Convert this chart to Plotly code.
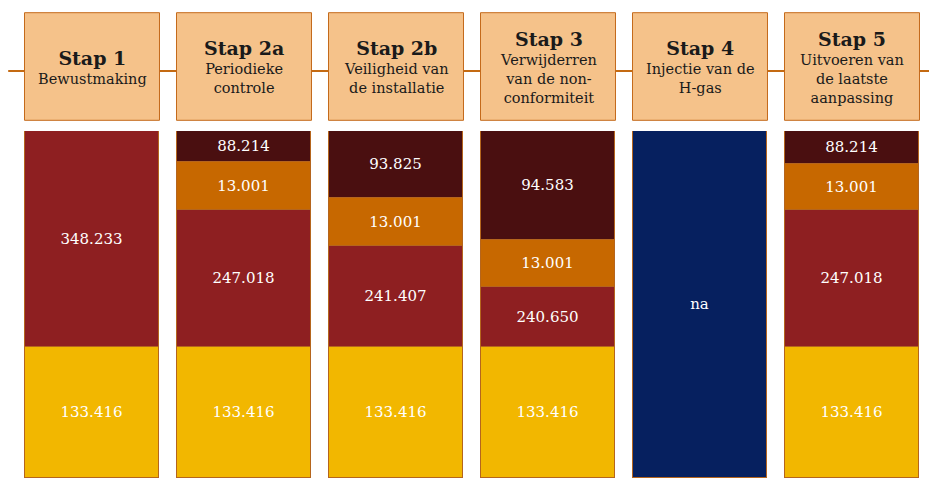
import plotly.graph_objs as go

# stappen en subtitels
stappen = ["Stap 1", "Stap 2a", "Stap 2b", "Stap 3", "Stap 4", "Stap 5"]
subtitels = [
    "Bewustmaking",
    "Periodieke<br>controle",
    "Veiligheid van<br>de installatie",
    "Verwijderren<br>van de non-<br>conformiteit",
    "Injectie van de<br>H-gas",
    "Uitvoeren van<br>de laatste<br>aanpassing",
]

# getoonde waarden per segment (labels)
basis_lbl = ["133.416", "133.416", "133.416", "133.416", "", "133.416"]
rood_lbl = ["348.233", "247.018", "241.407", "240.650", "", "247.018"]
oranje_lbl = ["", "13.001", "13.001", "13.001", "", "13.001"]
donker_lbl = ["", "88.214", "93.825", "94.583", "", "88.214"]
na_lbl = ["", "", "", "", "na", ""]

# segmenthoogtes zoals getekend in de figuur (niet op schaal van de labels)
basis_h = [130.7, 130.7, 130.7, 130.7, 0, 130.7]
rood_h = [216.6, 137.3, 101.6, 60.6, 0, 137.3]
oranje_h = [0, 48.3, 48.4, 47.4, 0, 46.0]
donker_h = [0, 31.0, 66.6, 108.6, 0, 33.3]
na_h = [0, 0, 0, 0, 347.3, 0]

# de pagina zet de figuur 8px van de rand, dus alles 8px verschoven
OFF = 8
W, H = 937 - OFF, 478 - OFF
T, B, L, R = 130.7 - OFF, 0, 15.8 - OFF, 9.2
plot_h = H - T - B
plot_w = W - L - R

fig = go.Figure()
series = [
    (basis_h, basis_lbl, "#F2B700"),
    (rood_h, rood_lbl, "#8E1F21"),
    (oranje_h, oranje_lbl, "#C76800"),
    (donker_h, donker_lbl, "#4A0F10"),
    (na_h, na_lbl, "#06205F"),
]
for h, lbl, kleur in series:
    fig.add_trace(go.Bar(
        x=stappen, y=h, text=lbl, textposition="inside", insidetextanchor="middle",
        textangle=0, width=0.888,
        textfont=dict(family="DejaVu Serif", size=15, color="white"),
        marker=dict(color=kleur, line=dict(color="#B5651D", width=1)),
        hoverinfo="skip", showlegend=False, cliponaxis=False,
    ))

def py(ypix):
    # pagina-pixel (vanaf boven) naar paper-coordinaat
    return 1 + (T - (ypix - OFF)) / plot_h

def px(xpix):
    return (xpix - OFF - L) / plot_w

shapes = [dict(type="line", xref="paper", yref="paper", x0=px(8), x1=px(937),
               y0=py(70.7), y1=py(70.7), line=dict(color="#C46A12", width=2))]
for i, s in enumerate(stappen):
    shapes.append(dict(type="rect", xref="x", yref="paper",
                       x0=i - 0.444, x1=i + 0.444, y0=py(120), y1=py(12.3),
                       fillcolor="#F5C28A", line=dict(color="#C46A1B", width=1)))
    fig.add_annotation(
        x=s, xref="x", y=py(66.2), yref="paper", yanchor="middle", showarrow=False,
        text="<span style='font-size:19px'><b>" + s + "</b></span><br>" + subtitels[i],
        font=dict(family="DejaVu Serif", size=14.5, color="#1a1a1a"),
    )

fig.update_layout(
    width=W, height=H, barmode="stack", bargap=0,
    margin=dict(l=L, r=R, t=T, b=B),
    plot_bgcolor="white", paper_bgcolor="white",
    shapes=shapes,
    uniformtext=dict(minsize=8, mode=False),
    xaxis=dict(visible=False, range=[-0.5, 5.5]),
    yaxis=dict(visible=False, range=[0, plot_h]),
)
fig.write_html("out.html")
